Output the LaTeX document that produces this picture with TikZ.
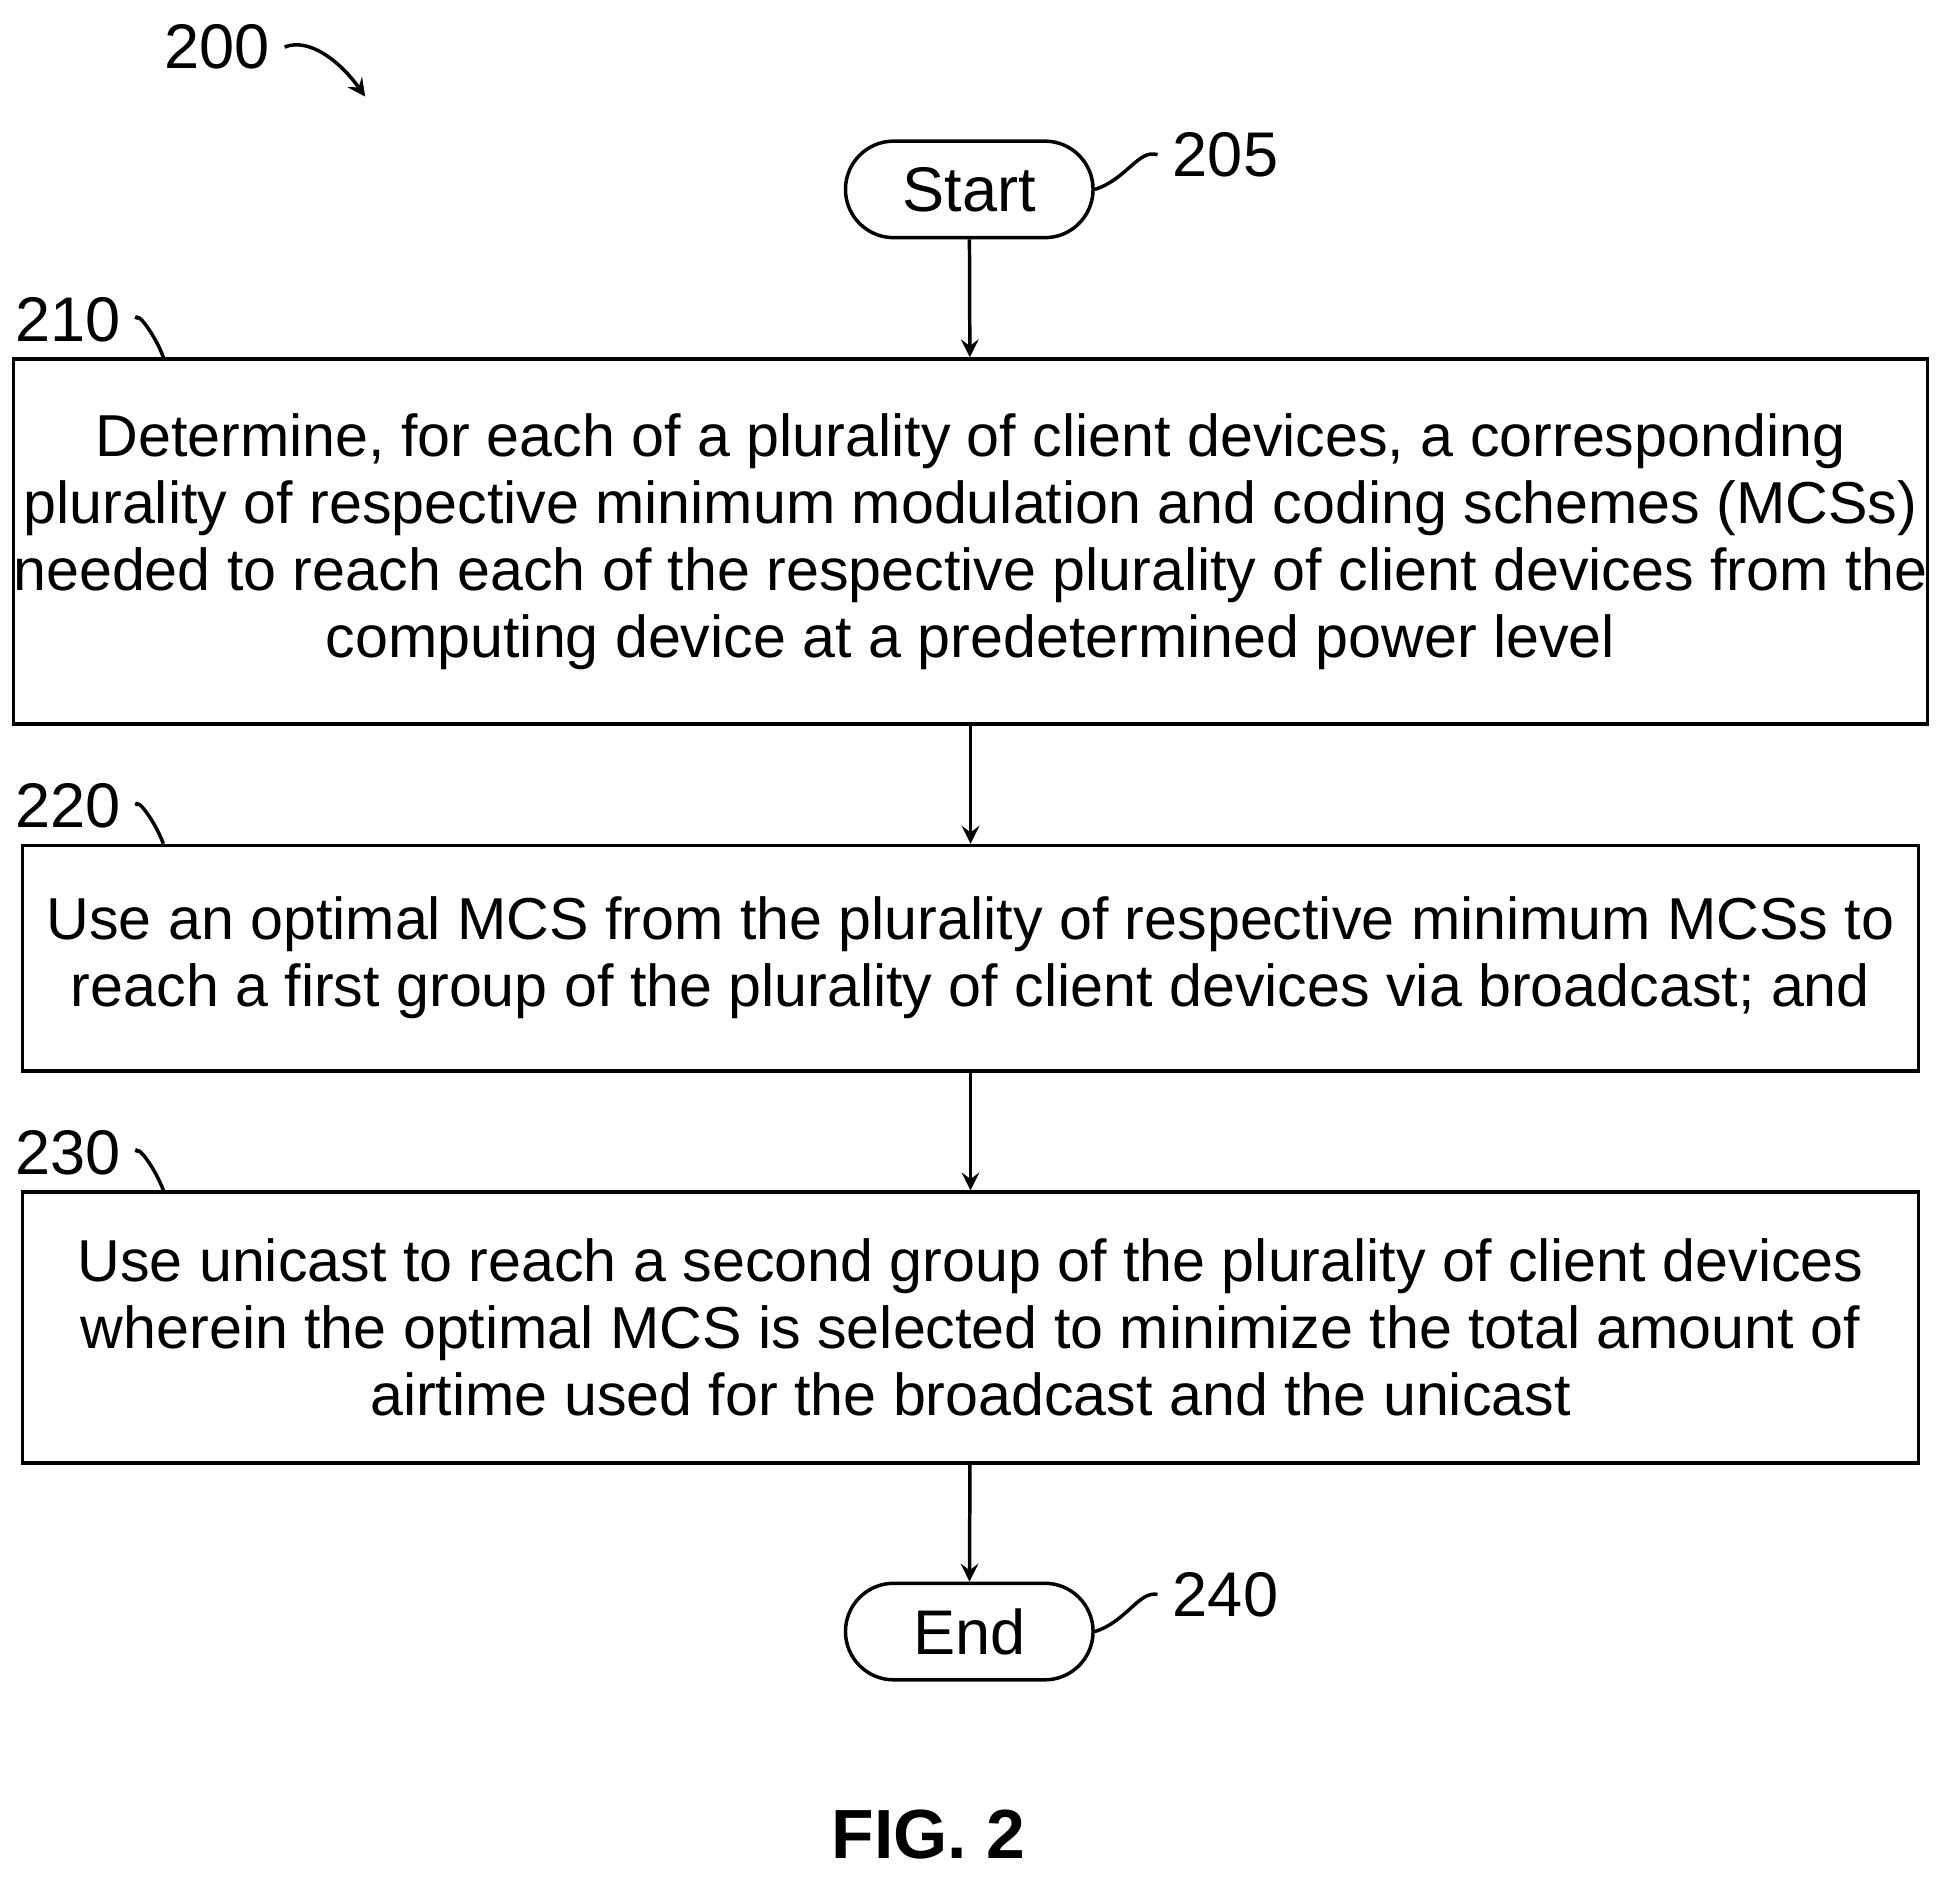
\documentclass[tikz,border=0pt]{standalone}
\usepackage{fontspec}
\setmainfont{Liberation Sans}
\usetikzlibrary{shapes,arrows,positioning,calc}

\begin{document}
\begin{tikzpicture}[
    stepbox/.style={draw, thick, minimum width=15.32cm, inner xsep=0pt, align=center, font=\fontsize{13.6}{15.4}\selectfont},
    termbox/.style={draw, thick, rounded corners=0.39cm, minimum width=2cm, minimum height=0.78cm, font=\fontsize{14.5}{17}\selectfont},
    reflabel/.style={font=\fontsize{14.5}{17}\selectfont},
    flow/.style={->, thick, >=stealth}
  ]
  \useasboundingbox (0,0) rectangle (15.68,-15.21);

  % Terminals
  \node[termbox] (start) at (7.83,-1.53) {Start};
  \node[termbox] (end) at (7.83,-13.18) {End};

  % Steps
  \node[stepbox, minimum height=2.95cm] (s210) at (7.84,-4.375) {Determine, for each of a plurality of client devices, a corresponding\\plurality of respective minimum modulation and coding schemes (MCSs)\\needed to reach each of the respective plurality of client devices from the\\computing device at a predetermined power level};
  \node[stepbox, minimum height=1.82cm] (s220) at (7.84,-7.74) {Use an optimal MCS from the plurality of respective minimum MCSs to\\reach a first group of the plurality of client devices via broadcast; and};
  \node[stepbox, minimum height=2.19cm] (s230) at (7.84,-10.725) {Use unicast to reach a second group of the plurality of client devices\\wherein the optimal MCS is selected to minimize the total amount of\\airtime used for the broadcast and the unicast};

  % Connectors
  \draw[flow] (start) -- (s210);
  \draw[flow] (s210) -- (s220);
  \draw[flow] (s220) -- (s230);
  \draw[flow] (s230) -- (end);

  % Reference numerals
  \node[reflabel] (l200) at (1.75,-0.38) {200};
  \draw[flow] (l200.east) .. controls (2.5,-0.3) and (2.75,-0.5) .. (2.95,-0.78);
  \node[reflabel] (l205) at (9.9,-1.25) {205};
  \draw[thick] (start.east) .. controls (9.1,-1.45) and (9.2,-1.2) .. (l205.west);
  \node[reflabel] (l240) at (9.9,-12.88) {240};
  \draw[thick] (end.east) .. controls (9.1,-13.1) and (9.2,-12.85) .. (l240.west);
  \node[reflabel] (l210) at (0.55,-2.58) {210};
  \draw[thick] (l210.east) .. controls (1.1,-2.5) and (1.25,-2.7) .. (s210.north west -| 1.32,0);
  \node[reflabel] (l220) at (0.55,-6.51) {220};
  \draw[thick] (l220.east) .. controls (1.1,-6.43) and (1.25,-6.63) .. (s220.north west -| 1.32,0);
  \node[reflabel] (l230) at (0.55,-9.31) {230};
  \draw[thick] (l230.east) .. controls (1.1,-9.23) and (1.25,-9.43) .. (s230.north west -| 1.32,0);

  % Caption
  \node[font=\fontsize{16}{19}\selectfont\bfseries] (fig) at (7.5,-14.82) {FIG. 2};
\end{tikzpicture}
\end{document}
